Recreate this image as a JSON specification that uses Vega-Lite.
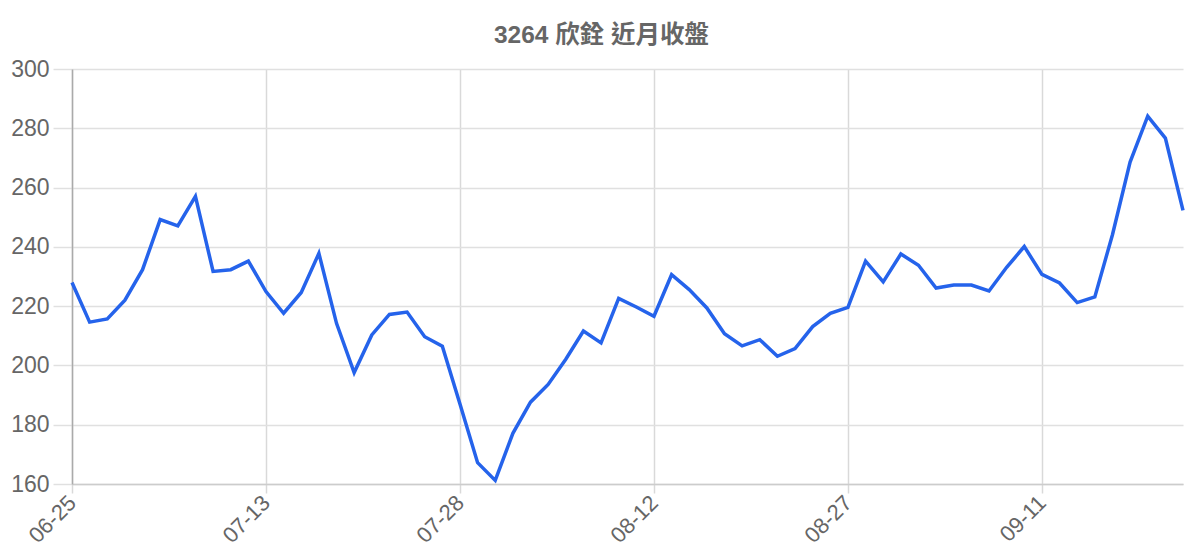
{
  "$schema": "https://vega.github.io/schema/vega-lite/v6.json",
  "width": 1111,
  "height": 415,
  "autosize": {"type": "none"},
  "padding": {"left": 72, "top": 69, "right": 17, "bottom": 76},
  "background": "white",
  "title": {
    "text": "3264 欣銓 近月收盤",
    "font": "Liberation Sans, Noto Sans CJK TC",
    "fontSize": 24.5,
    "fontWeight": "bold",
    "color": "#666666",
    "anchor": "middle",
    "dx": -26,
    "offset": 10
  },
  "data": {
    "values": [
      {"date": "06-25", "close": 228},
      {"date": "06-26", "close": 214.6},
      {"date": "06-29", "close": 215.7},
      {"date": "06-30", "close": 222},
      {"date": "07-01", "close": 232.3},
      {"date": "07-02", "close": 249.2},
      {"date": "07-03", "close": 247.1},
      {"date": "07-06", "close": 257},
      {"date": "07-07", "close": 231.7},
      {"date": "07-08", "close": 232.3},
      {"date": "07-09", "close": 235.2},
      {"date": "07-13", "close": 224.9},
      {"date": "07-14", "close": 217.6},
      {"date": "07-15", "close": 224.6},
      {"date": "07-16", "close": 237.8},
      {"date": "07-17", "close": 214.2},
      {"date": "07-20", "close": 197.6},
      {"date": "07-21", "close": 210.3},
      {"date": "07-22", "close": 217.2},
      {"date": "07-23", "close": 218},
      {"date": "07-24", "close": 209.7},
      {"date": "07-27", "close": 206.5},
      {"date": "07-28", "close": 187},
      {"date": "07-29", "close": 167.2},
      {"date": "07-30", "close": 161.2},
      {"date": "07-31", "close": 177.1},
      {"date": "08-03", "close": 187.6},
      {"date": "08-04", "close": 193.6},
      {"date": "08-05", "close": 202.1},
      {"date": "08-06", "close": 211.6},
      {"date": "08-07", "close": 207.6},
      {"date": "08-10", "close": 222.6},
      {"date": "08-11", "close": 219.7},
      {"date": "08-12", "close": 216.6},
      {"date": "08-13", "close": 230.6},
      {"date": "08-14", "close": 225.6},
      {"date": "08-17", "close": 219.4},
      {"date": "08-18", "close": 210.7},
      {"date": "08-19", "close": 206.6},
      {"date": "08-20", "close": 208.7},
      {"date": "08-21", "close": 203.1},
      {"date": "08-24", "close": 205.7},
      {"date": "08-25", "close": 213.1},
      {"date": "08-26", "close": 217.6},
      {"date": "08-27", "close": 219.6},
      {"date": "08-28", "close": 235.2},
      {"date": "08-31", "close": 228.2},
      {"date": "09-01", "close": 237.6},
      {"date": "09-02", "close": 233.8},
      {"date": "09-03", "close": 226.1},
      {"date": "09-04", "close": 227.1},
      {"date": "09-07", "close": 227.1},
      {"date": "09-08", "close": 225.1},
      {"date": "09-09", "close": 233.1},
      {"date": "09-10", "close": 240.1},
      {"date": "09-11", "close": 230.7},
      {"date": "09-14", "close": 227.8},
      {"date": "09-15", "close": 221.2},
      {"date": "09-16", "close": 223.1},
      {"date": "09-17", "close": 244.1},
      {"date": "09-18", "close": 268.6},
      {"date": "09-21", "close": 284.1},
      {"date": "09-22", "close": 276.7},
      {"date": "09-23", "close": 252.3}
    ]
  },
  "mark": {"type": "line", "color": "#2563eb", "strokeWidth": 3.5, "strokeJoin": "miter"},
  "encoding": {
    "x": {
      "field": "date",
      "type": "ordinal",
      "sort": null,
      "scale": {"type": "point", "padding": 0},
      "axis": {
        "title": null,
        "values": ["06-25", "07-13", "07-28", "08-12", "08-27", "09-11"],
        "labelAngle": -45,
        "labelBaseline": "middle",
        "labelFont": "Liberation Sans",
        "labelFontSize": 22,
        "labelColor": "#666666",
        "labelPadding": 6,
        "grid": true,
        "gridColor": "#d9d9d9",
        "gridWidth": 1.5,
        "domain": true,
        "domainColor": "#cccccc",
        "domainWidth": 1.5,
        "ticks": true,
        "tickColor": "#d9d9d9",
        "tickWidth": 1.5,
        "tickSize": 9
      }
    },
    "y": {
      "field": "close",
      "type": "quantitative",
      "scale": {"domain": [160, 300], "nice": false, "zero": false},
      "axis": {
        "title": null,
        "values": [160, 180, 200, 220, 240, 260, 280, 300],
        "labelFont": "Liberation Sans",
        "labelFontSize": 23,
        "labelColor": "#666666",
        "labelPadding": 4,
        "grid": true,
        "gridColor": "#e0e0e0",
        "gridWidth": 1.5,
        "domain": true,
        "domainColor": "#aaaaaa",
        "domainWidth": 1.5,
        "ticks": true,
        "tickColor": "#e0e0e0",
        "tickWidth": 1.5,
        "tickSize": 19
      }
    }
  },
  "config": {
    "view": {"stroke": null}
  }
}
